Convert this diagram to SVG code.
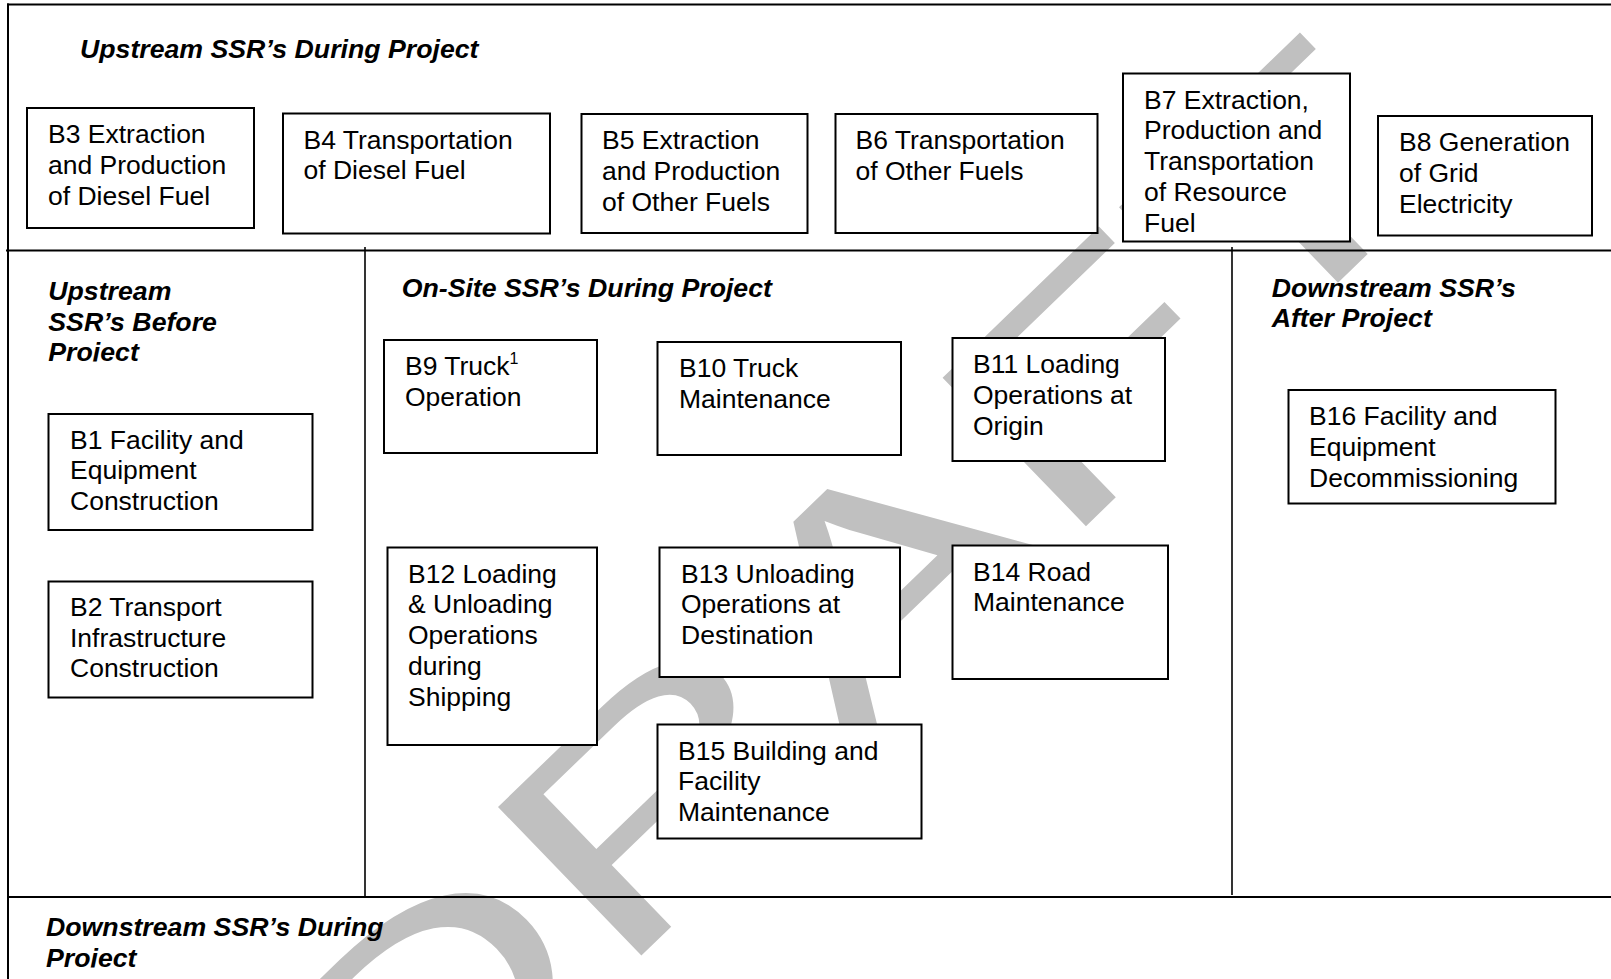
<svg xmlns="http://www.w3.org/2000/svg" width="1611" height="979" viewBox="0 0 1611 979">
<defs>
<style>
.bg{fill:#ffffff}
.ln{stroke:#000;stroke-width:2;fill:none}
.vl{stroke:#000;stroke-width:1.6;fill:none}
.box{fill:#ffffff;stroke:#000;stroke-width:2}
.t{font-family:"Liberation Sans",Arial,Helvetica,sans-serif;font-size:26.5px;fill:#000}
.h{font-family:"Liberation Sans",Arial,Helvetica,sans-serif;font-size:26.7px;font-weight:bold;font-style:italic;fill:#000}
.sup{font-size:16px}
.wm{font-family:"Liberation Sans",Arial,Helvetica,sans-serif;font-size:300px;fill:#c0c0c0}
</style>
<clipPath id="clipA"><rect x="0" y="252" width="360" height="109.5"/></clipPath>
<clipPath id="clipB"><rect x="0" y="899" width="600" height="68.5"/></clipPath>
</defs>
<rect class="bg" x="0" y="0" width="1611" height="979"/>
<g id="watermark">
<text class="wm" transform="translate(384 1204) rotate(-44) scale(1.483 1)">DRAFT</text>
</g>
<g id="frame">
<line class="ln" x1="7" y1="4.5" x2="1611" y2="4.5"/>
<line class="ln" x1="8" y1="3.5" x2="8" y2="979"/>
<line class="ln" x1="6" y1="250.5" x2="1611" y2="250.5"/>
<line class="ln" x1="8" y1="897" x2="1611" y2="897"/>
<line class="vl" x1="365" y1="247" x2="365" y2="897"/>
<line class="vl" x1="1232" y1="247" x2="1232" y2="895"/>
</g>
<g id="connectors"/>
<g id="section-titles">
<text class="h" x="80" y="57.5">Upstream SSR’s During Project</text>
<g clip-path="url(#clipA)">
<text class="h" x="48.3" y="300">Upstream<tspan x="48.3" dy="30.5">SSR’s Before</tspan><tspan x="48.3" dy="30.5">Project</tspan></text>
</g>
<text class="h" x="401.7" y="297">On-Site SSR’s During Project</text>
<text class="h" x="1271.7" y="296.7">Downstream SSR’s<tspan x="1271.7" dy="30">After Project</tspan></text>
<g clip-path="url(#clipB)">
<text class="h" x="46" y="936">Downstream SSR’s During<tspan x="46" dy="31">Project</tspan></text>
</g>
</g>
<g id="B3"><rect class="box" x="27" y="108" width="227" height="120"/>
<text class="t" x="48" y="143">B3 Extraction<tspan x="48" dy="30.8">and Production</tspan><tspan x="48" dy="30.8">of Diesel Fuel</tspan></text></g>
<g id="B4"><rect class="box" x="283" y="113.5" width="267" height="120"/>
<text class="t" x="303.5" y="148.5">B4 Transportation<tspan x="303.5" dy="30.8">of Diesel Fuel</tspan></text></g>
<g id="B5"><rect class="box" x="581.5" y="114" width="226" height="119"/>
<text class="t" x="602" y="149">B5 Extraction<tspan x="602" dy="30.8">and Production</tspan><tspan x="602" dy="30.8">of Other Fuels</tspan></text></g>
<g id="B6"><rect class="box" x="835.5" y="114" width="262" height="119"/>
<text class="t" x="855.5" y="149">B6 Transportation<tspan x="855.5" dy="30.8">of Other Fuels</tspan></text></g>
<g id="B7"><rect class="box" x="1123" y="73.5" width="227" height="168"/>
<text class="t" x="1144" y="108.5">B7 Extraction,<tspan x="1144" dy="30.8">Production and</tspan><tspan x="1144" dy="30.8">Transportation</tspan><tspan x="1144" dy="30.8">of Resource</tspan><tspan x="1144" dy="30.8">Fuel</tspan></text></g>
<g id="B8"><rect class="box" x="1378" y="116" width="214" height="119.5"/>
<text class="t" x="1399" y="151">B8 Generation<tspan x="1399" dy="30.8">of Grid</tspan><tspan x="1399" dy="30.8">Electricity</tspan></text></g>
<g id="B1"><rect class="box" x="48.5" y="414" width="264" height="116"/>
<text class="t" x="70" y="448.5">B1 Facility and<tspan x="70" dy="30.5">Equipment</tspan><tspan x="70" dy="30.5">Construction</tspan></text></g>
<g id="B2"><rect class="box" x="48.5" y="581.5" width="264" height="116"/>
<text class="t" x="70" y="616">B2 Transport<tspan x="70" dy="30.5">Infrastructure</tspan><tspan x="70" dy="30.5">Construction</tspan></text></g>
<g id="B9"><rect class="box" x="384" y="340" width="213" height="113"/>
<text class="t" x="405" y="375">B9 Truck<tspan class="sup" dy="-11">1</tspan><tspan x="405" dy="41.8">Operation</tspan></text></g>
<g id="B10"><rect class="box" x="657.5" y="342" width="243.5" height="113"/>
<text class="t" x="679" y="377">B10 Truck<tspan x="679" dy="30.8">Maintenance</tspan></text></g>
<g id="B11"><rect class="box" x="952.5" y="338" width="212.5" height="123"/>
<text class="t" x="973" y="373">B11 Loading<tspan x="973" dy="30.8">Operations at</tspan><tspan x="973" dy="30.8">Origin</tspan></text></g>
<g id="B12"><rect class="box" x="387.5" y="547.5" width="209.5" height="197.5"/>
<text class="t" x="408" y="582.5">B12 Loading<tspan x="408" dy="30.8">&amp; Unloading</tspan><tspan x="408" dy="30.8">Operations</tspan><tspan x="408" dy="30.8">during</tspan><tspan x="408" dy="30.8">Shipping</tspan></text></g>
<g id="B13"><rect class="box" x="659.5" y="547.5" width="240.5" height="129.5"/>
<text class="t" x="681" y="582.5">B13 Unloading<tspan x="681" dy="30.8">Operations at</tspan><tspan x="681" dy="30.8">Destination</tspan></text></g>
<g id="B14"><rect class="box" x="952.5" y="545.5" width="215.5" height="133.5"/>
<text class="t" x="973" y="580.5">B14 Road<tspan x="973" dy="30.8">Maintenance</tspan></text></g>
<g id="B15"><rect class="box" x="657.5" y="724.5" width="264" height="114"/>
<text class="t" x="678" y="759.5">B15 Building and<tspan x="678" dy="30.8">Facility</tspan><tspan x="678" dy="30.8">Maintenance</tspan></text></g>
<g id="B16"><rect class="box" x="1288.5" y="390" width="267" height="113.5"/>
<text class="t" x="1309" y="425">B16 Facility and<tspan x="1309" dy="30.8">Equipment</tspan><tspan x="1309" dy="30.8">Decommissioning</tspan></text></g>
</svg>
